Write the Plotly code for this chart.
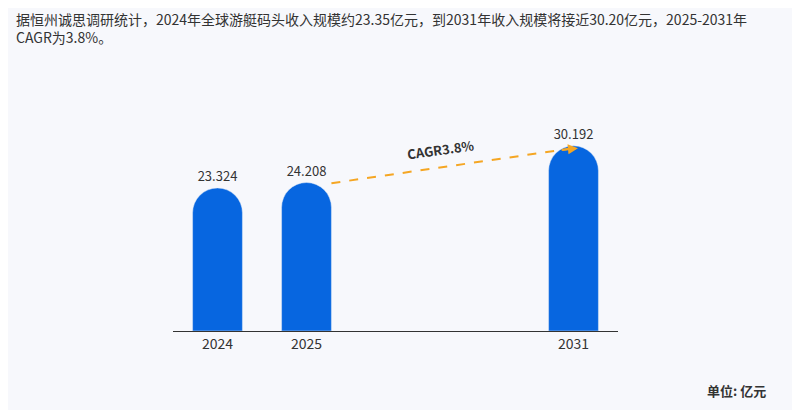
import plotly.graph_objects as go

years = ["2024", "2025", "2031"]
xpos = [0, 1, 4]
values = [23.324, 24.208, 30.192]
labels = ["23.324", "24.208", "30.192"]

L, R, T, B = 165, 190, 93, 87
PW = 800 - L - R

fig = go.Figure(go.Bar(
    x=xpos, y=values, text=labels, textposition="outside",
    marker=dict(color="#0766e0"), width=0.56,
    textfont=dict(size=13, color="#333"), cliponaxis=False))

fig.add_shape(type="line", x0=1.28, y0=24.1, x1=3.95, y1=29.7,
              line=dict(color="#f5a623", width=2, dash="dash"))
fig.add_annotation(x=4.05, y=29.8, ax=3.85, ay=29.5, xref="x", yref="y",
                   axref="x", ayref="y", text="", showarrow=True,
                   arrowhead=2, arrowsize=1, arrowwidth=2, arrowcolor="#f5a623")
fig.add_annotation(x=2.5, y=29.6, text="<b>CAGR3.8%</b>", showarrow=False,
                   textangle=-8, font=dict(size=13, color="#333"))

fig.add_annotation(xref="paper", yref="paper", x=(6 - L) / PW, y=1.0,
                   xanchor="left", yanchor="bottom", yshift=52, showarrow=False, align="left",
                   text="据恒州诚思调研统计，2024年全球游艇码头收入规模约23.35亿元，到2031年收入规模将接近30.20亿元，2025-2031年<br>CAGR为3.8%。",
                   font=dict(size=14, color="#333"))
fig.add_annotation(xref="paper", yref="paper", x=(760 - L) / PW, y=-0.26,
                   xanchor="right", yanchor="middle", showarrow=False,
                   text="<b>单位: 亿元</b>", font=dict(size=13, color="#333"))

fig.update_layout(
    width=800, height=410, margin=dict(l=L, r=R, t=T, b=B),
    paper_bgcolor="#f7f8fc", plot_bgcolor="#f7f8fc", barcornerradius="50%",
    font=dict(family="Noto Sans CJK SC", color="#333"), showlegend=False,
    xaxis=dict(range=[-0.5, 4.5], tickvals=xpos, ticktext=years, showgrid=False,
               showline=True, linecolor="#333", linewidth=1, ticks="",
               tickfont=dict(size=14, color="#333"), zeroline=False),
    yaxis=dict(range=[0, 37.5], visible=False),
)
fig.write_html("out.html")
